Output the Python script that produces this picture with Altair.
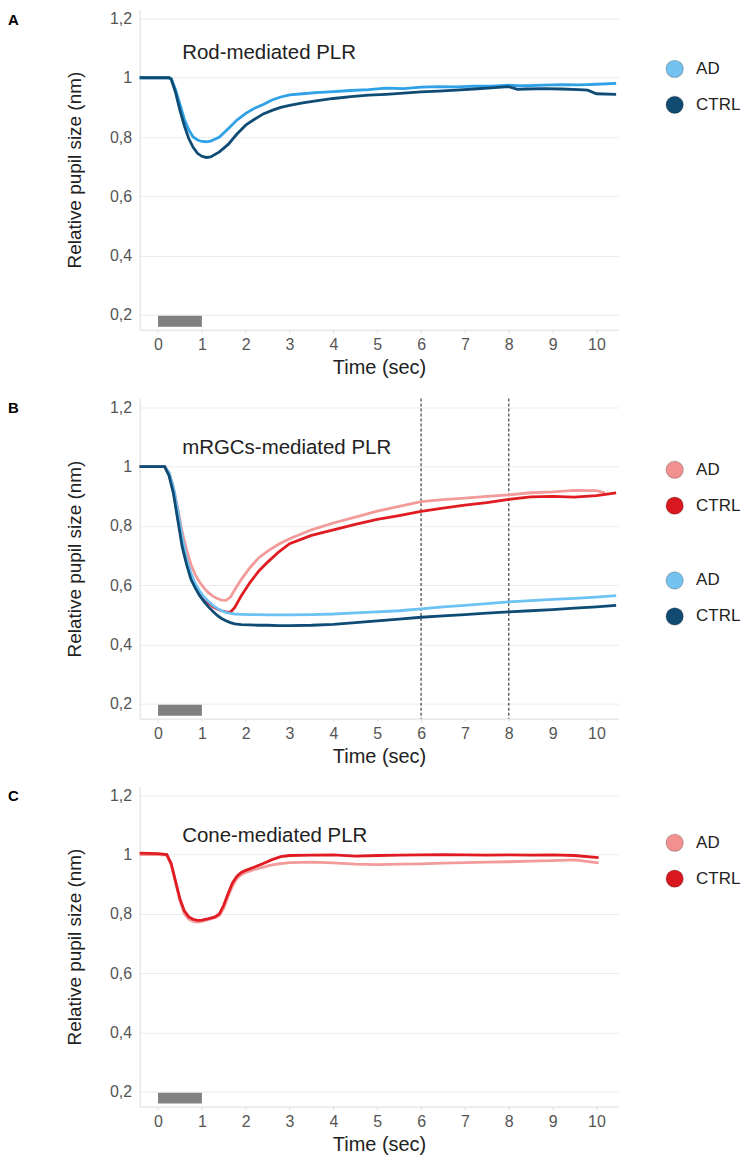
import altair as alt
import pandas as pd

FONT = "Liberation Sans"
XDOM = [-0.42, 10.5]
YDOM = [0.15, 1.23]
X_TICKS = [0, 1, 2, 3, 4, 5, 6, 7, 8, 9, 10]
Y_TICKS = [0.2, 0.4, 0.6, 0.8, 1.0, 1.2]
GROUPS = ["AD", "CTRL"]

# stimulus bar (0-1 s light stimulus)
stim_x = [0, 1]
stim_y = [0.16, 0.197]

# ---------- Panel A : Rod-mediated ----------
tA = [-0.42, 0.0, 0.25, 0.3, 0.4, 0.5, 0.6, 0.7, 0.8, 0.9, 1.0, 1.1, 1.2, 1.4, 1.6, 1.8,
      2.0, 2.2, 2.4, 2.6, 2.8, 3.0, 3.3, 3.6, 4.0, 4.4, 4.8, 5.2, 5.6, 6.0, 6.4, 6.8, 7.2,
      7.6, 8.0, 8.2, 8.4, 8.8, 9.2, 9.6, 9.8, 10.0, 10.45]
A_AD = [1.0, 1.0, 1.0, 0.997, 0.96, 0.91, 0.86, 0.825, 0.80, 0.79, 0.785, 0.784, 0.786, 0.80,
        0.828, 0.857, 0.88, 0.897, 0.91, 0.925, 0.935, 0.942, 0.946, 0.95, 0.953, 0.957, 0.96,
        0.965, 0.963, 0.968, 0.97, 0.969, 0.972, 0.972, 0.975, 0.973, 0.973, 0.975, 0.977,
        0.976, 0.977, 0.978, 0.981]
A_CTRL = [1.0, 1.0, 1.0, 0.995, 0.95, 0.89, 0.838, 0.795, 0.765, 0.745, 0.735, 0.731, 0.733,
          0.75, 0.775, 0.81, 0.84, 0.86, 0.878, 0.89, 0.90, 0.907, 0.915, 0.922, 0.93, 0.936,
          0.941, 0.944, 0.948, 0.952, 0.955, 0.958, 0.962, 0.966, 0.97, 0.961, 0.962, 0.963,
          0.962, 0.96, 0.958, 0.946, 0.944]

# ---------- Panel B : mRGCs-mediated ----------
tB = [-0.42, 0.0, 0.15, 0.25, 0.35, 0.45, 0.55, 0.65, 0.75, 0.85, 0.95, 1.05, 1.15, 1.25,
      1.35, 1.45, 1.55, 1.65, 1.75, 1.9, 2.1, 2.3, 2.5, 2.75, 3.0, 3.5, 4.0, 4.5, 5.0, 5.5,
      6.0, 6.5, 7.0, 7.5, 8.0, 8.5, 9.0, 9.5, 10.0, 10.45]
tB_red_AD = [-0.42, 0.0, 0.15, 0.25, 0.35, 0.45, 0.55, 0.65, 0.75, 0.85, 0.95, 1.05, 1.15, 1.25,
             1.35, 1.45, 1.55, 1.65, 1.75, 1.9, 2.1, 2.3, 2.5, 2.75, 3.0, 3.5, 4.0, 4.5, 5.0,
             5.5, 6.0, 6.5, 7.0, 7.5, 8.0, 8.5, 9.0, 9.5, 10.0, 10.2]
B_red_AD = [1.0, 1.0, 1.0, 0.98, 0.93, 0.86, 0.78, 0.72, 0.67, 0.635, 0.61, 0.59, 0.575, 0.563,
            0.555, 0.55, 0.549, 0.56, 0.585, 0.62, 0.66, 0.693, 0.715, 0.738, 0.757, 0.787,
            0.81, 0.83, 0.85, 0.866, 0.882, 0.889, 0.894, 0.90, 0.905, 0.912, 0.915, 0.92,
            0.919, 0.912]
B_red_CTRL = [1.0, 1.0, 1.0, 0.975, 0.92, 0.83, 0.745, 0.685, 0.635, 0.60, 0.575, 0.555, 0.54,
              0.528, 0.52, 0.514, 0.51, 0.509, 0.525, 0.565, 0.61, 0.648, 0.678, 0.712, 0.74,
              0.768, 0.787, 0.805, 0.822, 0.835, 0.849, 0.86, 0.87, 0.879, 0.89, 0.898, 0.90,
              0.897, 0.902, 0.912]
B_blue_AD = [1.0, 1.0, 1.0, 0.98, 0.93, 0.85, 0.76, 0.69, 0.64, 0.605, 0.58, 0.56, 0.545,
             0.532, 0.522, 0.514, 0.508, 0.505, 0.503, 0.502, 0.501, 0.501, 0.50, 0.50, 0.50,
             0.501, 0.503, 0.507, 0.51, 0.514, 0.52, 0.527, 0.532, 0.538, 0.544, 0.548, 0.552,
             0.556, 0.56, 0.565]
B_blue_CTRL = [1.0, 1.0, 1.0, 0.97, 0.91, 0.82, 0.73, 0.67, 0.62, 0.59, 0.565, 0.545, 0.527,
               0.512, 0.498, 0.488, 0.48, 0.474, 0.47, 0.467, 0.466, 0.465, 0.465, 0.464,
               0.464, 0.465, 0.468, 0.474, 0.48, 0.486, 0.492, 0.497, 0.501, 0.506, 0.51,
               0.514, 0.518, 0.523, 0.527, 0.532]
B_markers = [6, 8]

# ---------- Panel C : Cone-mediated ----------
tC = [-0.42, 0.0, 0.2, 0.3, 0.4, 0.5, 0.6, 0.7, 0.8, 0.9, 1.0, 1.1, 1.2, 1.3, 1.4, 1.5, 1.6,
      1.7, 1.8, 1.9, 2.0, 2.2, 2.4, 2.6, 2.8, 3.0, 3.5, 4.0, 4.5, 5.0, 5.5, 6.0, 6.5, 7.0,
      7.5, 8.0, 8.5, 9.0, 9.5, 10.05]
C_AD = [1.0, 1.0, 0.998, 0.965, 0.905, 0.845, 0.80, 0.782, 0.775, 0.772, 0.775, 0.779, 0.783,
        0.787, 0.795, 0.82, 0.86, 0.895, 0.92, 0.932, 0.94, 0.95, 0.958, 0.965, 0.97, 0.973,
        0.975, 0.972, 0.968, 0.966, 0.968, 0.969, 0.971, 0.973, 0.975, 0.976, 0.978, 0.98,
        0.982, 0.972]
C_CTRL = [1.005, 1.003, 1.0, 0.97, 0.91, 0.85, 0.81, 0.79, 0.782, 0.778, 0.779, 0.782, 0.786,
          0.79, 0.80, 0.83, 0.87, 0.905, 0.927, 0.94, 0.947, 0.958, 0.97, 0.983, 0.993, 0.997,
          0.998, 0.999, 0.995, 0.997, 0.998, 0.999, 1.0, 0.999, 0.998, 0.999, 0.998, 0.999,
          0.997, 0.99]

# colours
BLUE_LINE_A = ["#2fa1e6", "#0f4c75"]
BLUE_LINE_B = ["#6cc2f2", "#0f4c75"]
RED_LINE = ["#f39a9a", "#e01b22"]
BLUE_LEG = ["#74c2ef", "#124b72"]
RED_LEG = ["#f29090", "#d9171e"]

X_AXIS = alt.Axis(values=X_TICKS, grid=False, ticks=True, tickColor="#dddddd", tickSize=3,
                  domainColor="#dcdcdc", labelColor="#555", labelFont=FONT, labelFontSize=16,
                  labelPadding=4, titleFont=FONT, titleFontSize=20, titleFontWeight="normal",
                  titleColor="#222", titlePadding=5)
Y_AXIS = alt.Axis(values=Y_TICKS, grid=True, gridColor="#ebebeb", ticks=False,
                  domainColor="#dcdcdc", labelColor="#555", labelFont=FONT, labelFontSize=16,
                  labelPadding=8, labelExpr="replace(format(datum.value, '.1~f'), '.', ',')",
                  titleFont=FONT, titleFontSize=19, titleFontWeight="normal", titleColor="#222",
                  titlePadding=25)


def xenc(field="t"):
    return alt.X(f"{field}:Q", scale=alt.Scale(domain=XDOM, nice=False, zero=False),
                 axis=X_AXIS, title="Time (sec)")


def yenc(field="v"):
    return alt.Y(f"{field}:Q", scale=alt.Scale(domain=YDOM, nice=False, zero=False),
                 axis=Y_AXIS, title="Relative pupil size (nm)")


def make_df(series):
    rows = []
    for grp, ts, vs in series:
        for t, v in zip(ts, vs):
            rows.append({"t": t, "v": v, "grp": grp})
    return pd.DataFrame(rows)


def group_layers(series, line_colors, leg_colors, lx, ly):
    df = make_df(series)
    lines = alt.Chart(df).mark_line(strokeWidth=2.8).encode(
        x=xenc(), y=yenc(),
        color=alt.Color("grp:N", scale=alt.Scale(domain=GROUPS, range=line_colors), legend=None),
    )
    leg = alt.Chart(df).transform_filter("datum.t > 1000").mark_point(filled=True, opacity=1).encode(
        x=xenc(), y=yenc(),
        color=alt.Color("grp:N", scale=alt.Scale(domain=GROUPS, range=leg_colors),
                        legend=alt.Legend(title=None, orient="none", legendX=lx, legendY=ly,
                                          symbolType="circle", symbolSize=300,
                                          symbolStrokeColor="rgba(0,0,0,0.2)",
                                          symbolStrokeWidth=1.2, labelFont=FONT,
                                          labelFontSize=17, labelColor="#222",
                                          rowPadding=13, labelOffset=12, padding=0)),
    )
    return [lines, leg]


def panel(letter, title, title_y, groups, markers=None):
    stim = alt.Chart(pd.DataFrame({"x0": [stim_x[0]], "x1": [stim_x[1]],
                                   "y0": [stim_y[0]], "y1": [stim_y[1]]})).mark_rect(
        color="#808080").encode(x=xenc("x0"), x2="x1", y=yenc("y0"), y2="y1")
    layers = [stim]
    if markers:
        layers.append(alt.Chart(pd.DataFrame({"t": markers})).mark_rule(
            color="#666666", strokeWidth=1.5, strokeDash=[3, 2]).encode(x=xenc()))
    for g in groups:
        layers += group_layers(*g)
    ttl = alt.Chart(pd.DataFrame({"t": [0.55], "v": [title_y], "s": [title]})).mark_text(
        align="left", baseline="middle", font=FONT, fontSize=20.5, color="#222").encode(
        x=xenc(), y=yenc(), text="s:N")
    lab = alt.Chart(pd.DataFrame({"s": [letter]})).mark_text(
        align="left", baseline="top", font=FONT, fontSize=15, fontWeight="bold",
        color="#000").encode(x=alt.value(-132), y=alt.value(3), text="s:N")
    layers += [ttl, lab]
    return alt.layer(*layers).resolve_scale(color="independent").properties(width=480, height=321)


pA = panel("A", "Rod-mediated PLR", 1.084,
           [([("AD", tA, A_AD), ("CTRL", tA, A_CTRL)], BLUE_LINE_A, BLUE_LEG, 527, 50)])
pB = panel("B", "mRGCs-mediated PLR", 1.064,
           [([("AD", tB_red_AD, B_red_AD), ("CTRL", tB, B_red_CTRL)], RED_LINE, RED_LEG, 527, 62),
            ([("AD", tB, B_blue_AD), ("CTRL", tB, B_blue_CTRL)], BLUE_LINE_B, BLUE_LEG, 527, 173)],
           markers=B_markers)
pC = panel("C", "Cone-mediated PLR", 1.064,
           [([("AD", tC, C_AD), ("CTRL", tC, C_CTRL)], RED_LINE, RED_LEG, 527, 47)])

chart = alt.vconcat(pA, pB, pC, spacing=20).properties(
    padding=0
).configure_view(stroke=None)

chart.save("out.html", embed_options={"renderer": "svg", "actions": False})
